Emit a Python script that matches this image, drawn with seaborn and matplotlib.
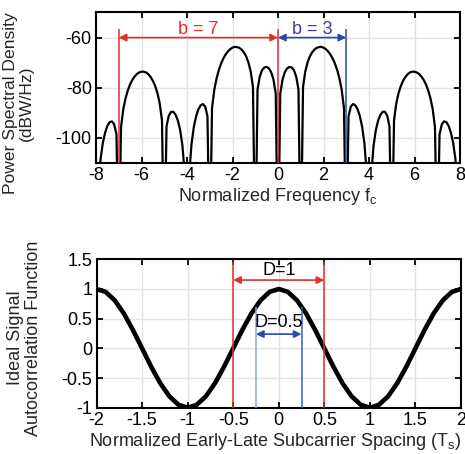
import numpy as np
import pandas as pd
import matplotlib
matplotlib.use("Agg")
import matplotlib.pyplot as plt
import seaborn as sns

# --- data ---
# top panel: PSD (dBW/Hz) sampled every 0.1 from f = -8 to 8 (nulls set far below axis)
freq = np.round(np.linspace(-8, 8, 161), 1)
psd_db = [
    -150, -120.3, -108.5, -102.0, -97.9, -95.2, -93.7, -93.4, -94.6, -98.6,
    -150, -95.7, -88.5, -84.2, -81.0, -78.6, -76.8, -75.5, -74.5, -73.9,
    -73.6, -73.6, -73.9, -74.6, -75.7, -77.2, -79.3, -82.1, -86.2, -93.0,
    -150, -95.4, -91.1, -89.6, -89.6, -90.8, -93.1, -96.9, -103.1, -114.6,
    -150, -114.1, -102.3, -95.6, -91.4, -88.6, -87.0, -86.5, -87.5, -91.4,
    -150, -88.1, -80.8, -76.3, -72.9, -70.3, -68.3, -66.7, -65.5, -64.6,
    -64.0, -63.7, -63.8, -64.1, -64.8, -65.9, -67.5, -69.9, -73.5, -79.7,
    -150, -80.7, -75.5, -73.0, -71.9, -71.7, -72.3, -73.8, -76.7, -82.3,
    -150,
    -82.3, -76.7, -73.8, -72.3, -71.7, -71.9, -73.0, -75.5, -80.7, -150,
    -79.7, -73.5, -69.9, -67.5, -65.9, -64.8, -64.1, -63.8, -63.7, -64.0,
    -64.6, -65.5, -66.7, -68.3, -70.3, -72.9, -76.3, -80.8, -88.1, -150,
    -91.4, -87.5, -86.5, -87.0, -88.6, -91.4, -95.6, -102.3, -114.1, -150,
    -114.6, -103.1, -96.9, -93.1, -90.8, -89.6, -89.6, -91.1, -95.4, -150,
    -93.0, -86.2, -82.1, -79.3, -77.2, -75.7, -74.6, -73.9, -73.6, -73.6,
    -73.9, -74.5, -75.5, -76.8, -78.6, -81.0, -84.2, -88.5, -95.7, -150,
    -98.6, -94.6, -93.4, -93.7, -95.2, -97.9, -102.0, -108.5, -120.3, -150,
]
b_red = (-7, 0)      # b = 7 span
b_blue = (0, 3)      # b = 3 span

# bottom panel: autocorrelation vs early-late spacing, every 0.1 from -2 to 2
spacing = np.round(np.linspace(-2, 2, 41), 1)
acf = [
    1.000, 0.951, 0.809, 0.588, 0.309, 0.000, -0.309, -0.588, -0.809, -0.951,
    -1.000, -0.951, -0.809, -0.588, -0.309, 0.000, 0.309, 0.588, 0.809, 0.951,
    1.000,
    0.951, 0.809, 0.588, 0.309, 0.000, -0.309, -0.588, -0.809, -0.951, -1.000,
    -0.951, -0.809, -0.588, -0.309, 0.000, 0.309, 0.588, 0.809, 0.951, 1.000,
]
d_red = (-0.5, 0.5)
d_blue = (-0.25, 0.25)

psd_df = pd.DataFrame({"f": freq, "psd": psd_db})
acf_df = pd.DataFrame({"tau": spacing, "r": acf})

sns.set_theme(style="ticks")
plt.rcParams["font.family"] = ["Liberation Sans", "DejaVu Sans"]
plt.rcParams["mathtext.fontset"] = "custom"
plt.rcParams["mathtext.rm"] = "Liberation Sans"
plt.rcParams["mathtext.it"] = "Liberation Sans"
plt.rcParams["axes.unicode_minus"] = False

FS = 13
RED = "#e0302a"
BLUE = "#2b4aa8"
BLUE_TXT = "#3c3c9c"
GRID = "#e2e2e2"

fig = plt.figure(figsize=(4.65, 4.54), dpi=100)
ax1 = fig.add_axes([96 / 465, 1 - 163 / 454, 364 / 465, 150.5 / 454])
ax2 = fig.add_axes([96.5 / 465, 1 - 407.7 / 454, 364.5 / 465, 148.4 / 454])


def style_axes(ax):
    ax.grid(True, color=GRID, lw=1)
    ax.set_axisbelow(True)
    for s in ax.spines.values():
        s.set_linewidth(1.5)
        s.set_color("black")
        s.set_visible(True)
    ax.tick_params(direction="in", length=4.5, width=1.3, top=True, right=True,
                   labelsize=FS, pad=3, colors="black")


# --- top: power spectral density ---
sns.lineplot(data=psd_df, x="f", y="psd", ax=ax1, color="black", lw=1.6,
             sort=False, estimator=None)
ax1.set_xlim(-8, 8)
ax1.set_ylim(-110, -50)
ax1.set_xticks(np.arange(-8, 9, 2))
ax1.set_yticks([-100, -80, -60])
style_axes(ax1)
ax1.set_xlabel(r"Normalized Frequency f$_\mathregular{c}$", fontsize=FS, labelpad=1)
ax1.set_ylabel("Power Spectral Density\n(dBW/Hz)", fontsize=12.6, linespacing=1.1)
ax1.yaxis.set_label_coords(-0.17, 0.40)

ax1.vlines([b_red[0], b_red[1]], -110, -56.6, color=RED, lw=1.1, zorder=3)
ax1.vlines([b_blue[1]], -110, -56.6, color=BLUE, lw=1.1, zorder=3)
arrow = dict(arrowstyle="<|-|>", lw=1.2, mutation_scale=11, shrinkA=0, shrinkB=0)
ax1.annotate("", xy=(b_red[0], -60), xytext=(b_red[1], -60),
             arrowprops=dict(arrow, color=RED), zorder=4)
ax1.annotate("", xy=(b_blue[0], -60), xytext=(b_blue[1], -60),
             arrowprops=dict(arrow, color=BLUE), zorder=4)
ax1.text(np.mean(b_red), -58.6, "b = 7", color=RED, fontsize=FS, ha="center", va="baseline")
ax1.text(np.mean(b_blue), -58.6, "b = 3", color=BLUE_TXT, fontsize=FS, ha="center", va="baseline")

# --- bottom: autocorrelation ---
sns.lineplot(data=acf_df, x="tau", y="r", ax=ax2, color="black", lw=3.3,
             sort=False, estimator=None)
ax2.set_xlim(-2, 2)
ax2.set_ylim(-1, 1.5)
ax2.set_xticks(np.arange(-2, 2.01, 0.5))
ax2.set_xticklabels(["-2", "-1.5", "-1", "-0.5", "0", "0.5", "1", "1.5", "2"])
ax2.set_yticks(np.arange(-1, 1.51, 0.5))
ax2.set_yticklabels(["-1", "-0.5", "0", "0.5", "1", "1.5"])
style_axes(ax2)
ax2.set_xlabel(r"Normalized Early-Late Subcarrier Spacing (T$_\mathregular{s}$)",
               fontsize=FS, labelpad=1)
ax2.xaxis.set_label_coords(0.49, -0.16)
ax2.set_ylabel("Ideal Signal\nAutocorrelation Function", fontsize=FS, linespacing=1.1)
ax2.yaxis.set_label_coords(-0.15, 0.47)

ax2.vlines(list(d_red), -1, 1.46, color=RED, lw=1.1, zorder=3)
ax2.vlines([d_blue[0]], -1, 0.7, color="#8aa6d8", lw=1.1, zorder=3)
ax2.vlines([d_blue[1]], -1, 0.7, color="#3a5fb8", lw=1.1, zorder=3)
ax2.annotate("", xy=(d_red[0], 1.15), xytext=(d_red[1], 1.15),
             arrowprops=dict(arrow, color=RED), zorder=4)
ax2.annotate("", xy=(d_blue[0], 0.24), xytext=(d_blue[1], 0.24),
             arrowprops=dict(arrow, color=BLUE), zorder=4)
ax2.text(0, 1.236, "D=1", color="black", fontsize=FS, ha="center", va="baseline")
ax2.text(0, 0.355, "D=0.5", color="black", fontsize=FS, ha="center", va="baseline")

fig.savefig("out.png", dpi=100)
